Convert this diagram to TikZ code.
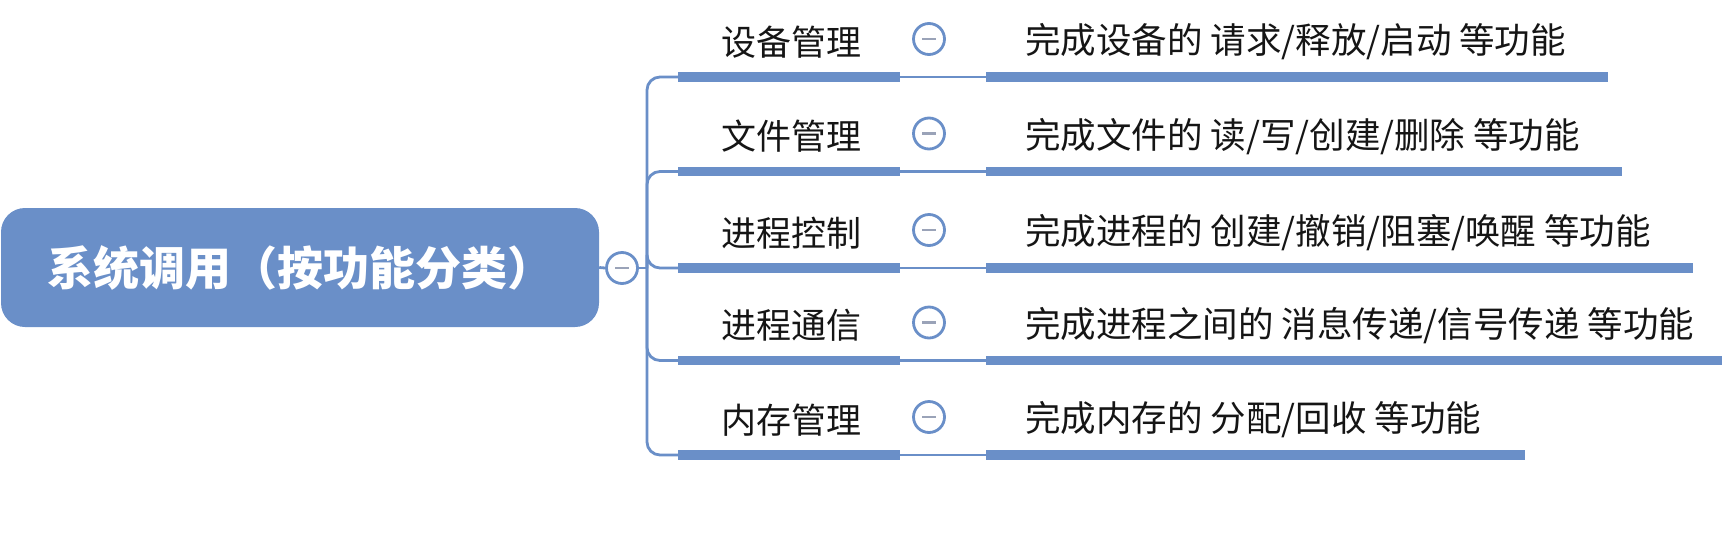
\documentclass[tikz,border=0pt]{standalone}
\usepackage{fontspec}
\setmainfont{Noto Sans CJK SC}
\begin{document}
\begin{tikzpicture}[x=1pt,y=-1pt]
\definecolor{mblue}{HTML}{6A8FC8}
\definecolor{mgray}{HTML}{9AA3B8}
\definecolor{txt}{HTML}{151515}
\tikzset{
  rootbox/.style={rounded corners=24pt, fill=mblue, minimum width=598pt, minimum height=119pt, inner sep=0pt, text=white, font=\fontsize{46}{52}\selectfont\bfseries},
  collapse/.style={circle, draw=mblue, line width=2.8pt, fill=white, minimum size=31pt, inner sep=0pt,
    path picture={\draw[mgray, line width=2.6pt] ([xshift=-7pt]path picture bounding box.center) -- ([xshift=7pt]path picture bounding box.center);}},
  conn/.style={draw=mblue, line width=2.8pt},
  barline/.style={draw=mblue, line width=9.5pt},
  childtext/.style={font=\fontsize{35}{40}\selectfont, text=txt, inner sep=0pt},
  leaftext/.style={font=\fontsize{35.5}{40}\selectfont, text=txt, inner sep=0pt, anchor=west},
}
\useasboundingbox (0,0) rectangle (1728,536);
\node[rootbox] (root) at (300,267.5) {系统调用（按功能分类）};
\node[collapse] (rc) at (622,268) {};
\coordinate (tk) at (647,268);
\draw[conn] (root.east) -- (rc.west);
\draw[conn] (rc.east) -- (tk);
\foreach \i/\y/\e/\c/\l in {
  1/77/1608/设备管理/{完成设备的 请求/释放/启动 等功能},
  2/171.5/1622/文件管理/{完成文件的 读/写/创建/删除 等功能},
  3/268/1693/进程控制/{完成进程的 创建/撤销/阻塞/唤醒 等功能},
  4/360.5/1722/进程通信/{完成进程之间的 消息传递/信号传递 等功能},
  5/455/1525/内存管理/{完成内存的 分配/回收 等功能}} {
  \coordinate (cs\i) at (678,\y);
  \coordinate (ce\i) at (900,\y);
  \coordinate (ls\i) at (986,\y);
  \coordinate (le\i) at (\e,\y);
  \node[childtext] (child\i) at (791,\y-35) {\c};
  \node[collapse] (cc\i) at (929,\y-38) {};
  \node[leaftext] (leaf\i) at (1025,\y-35) {\l};
  \draw[conn, rounded corners=13pt] (tk) |- (cs\i);
  \draw[barline] (cs\i) -- (ce\i);
  \draw[conn] (ce\i) -- (ls\i);
  \draw[barline] (ls\i) -- (le\i);
}
\end{tikzpicture}
\end{document}
